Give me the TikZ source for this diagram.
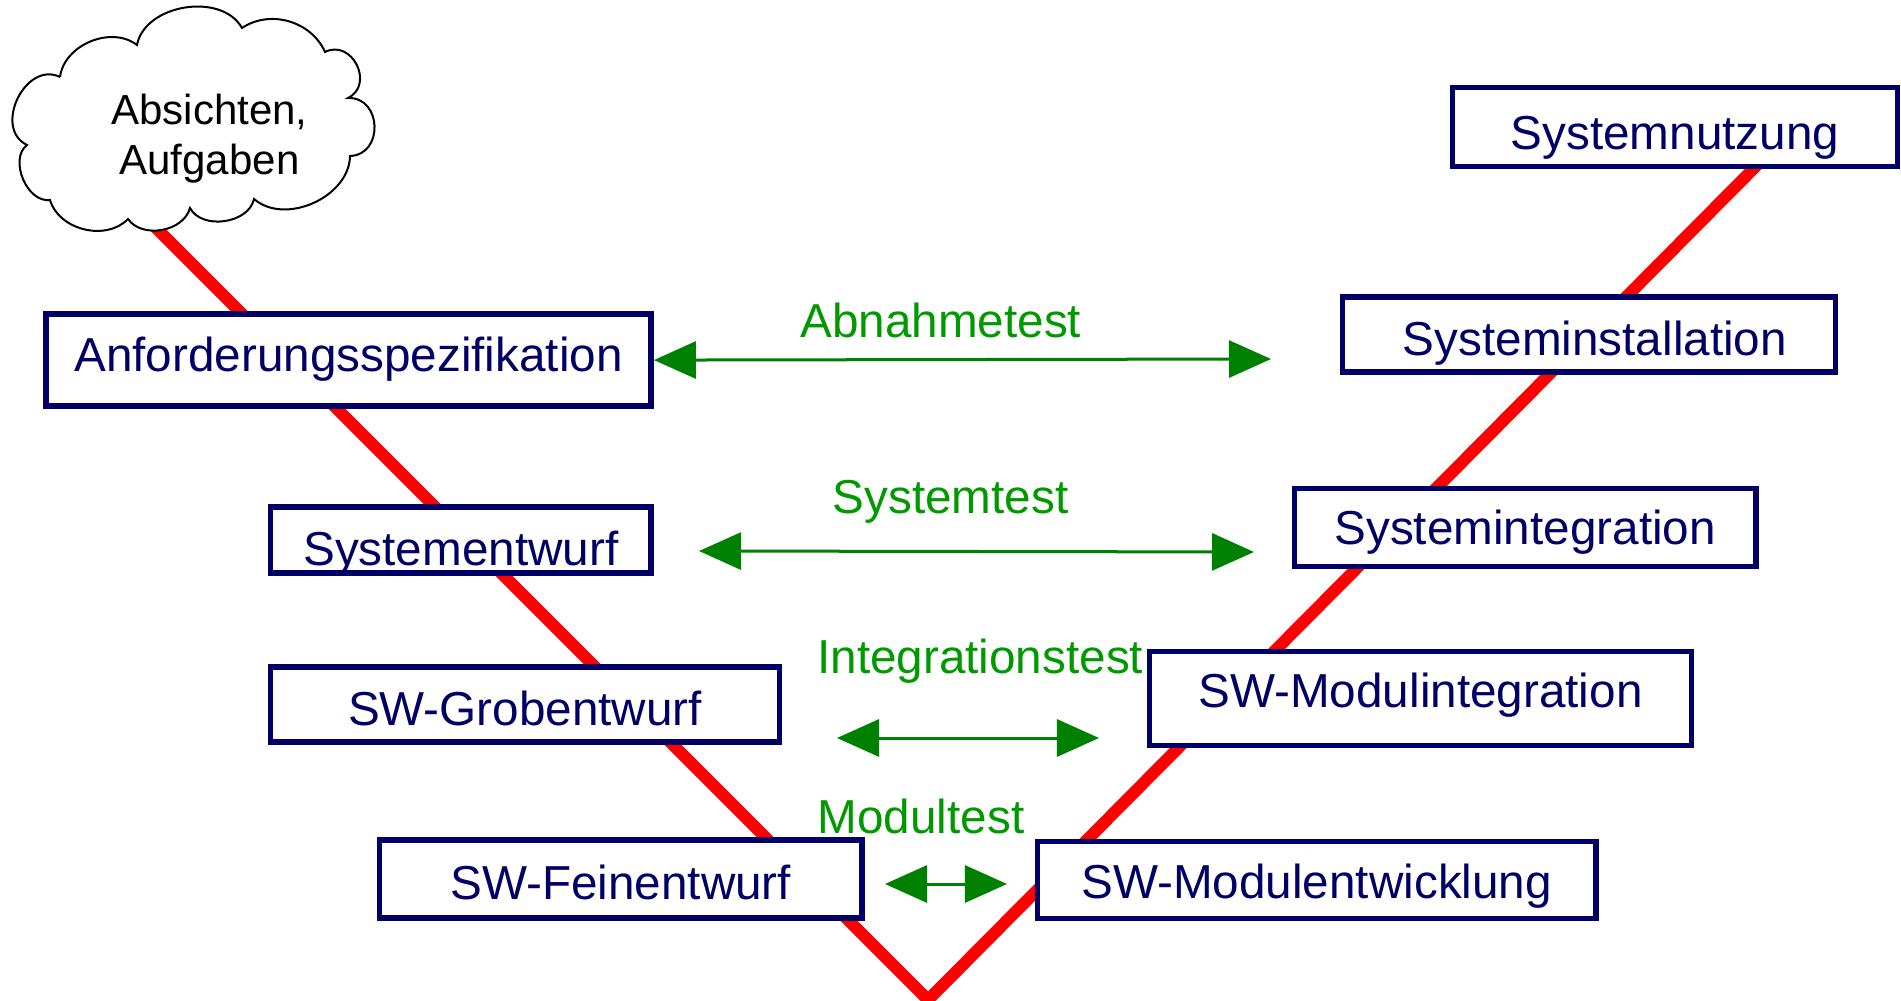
\documentclass[tikz,border=0pt]{standalone}
\usepackage{fontspec}
\setmainfont{Liberation Sans}
\usetikzlibrary{arrows.meta}
\definecolor{navy}{RGB}{0,0,102}
\definecolor{arrowgreen}{RGB}{0,128,0}
\definecolor{labelgreen}{RGB}{0,153,0}
\definecolor{vred}{RGB}{255,0,0}
\begin{document}
\begin{tikzpicture}[x=0.01cm,y=-0.01cm,
  phase/.style={draw=navy, line width=0.055cm, fill=white, text=navy,
    font=\fontsize{13.55pt}{16pt}\selectfont, inner sep=0pt, text depth=0pt},
  testlabel/.style={text=labelgreen, font=\fontsize{13.55pt}{16pt}\selectfont,
    inner sep=0pt, anchor=base},
  testarrow/.style={draw=arrowgreen, line width=0.03cm,
    {Triangle[length=0.42cm,width=0.37cm]}-{Triangle[length=0.42cm,width=0.37cm]}},
  vline/.style={draw=vred, line width=0.12cm},
  wolke/.style={draw=black, fill=white, line width=0.02cm},
]
\useasboundingbox (0,0) rectangle (1901,1001);

% V line
\coordinate (vstart) at (130,202);
\coordinate (vbottom) at (928,1000);
\coordinate (vend) at (1780,142);
\draw[vline] (vstart) -- (vbottom) -- (vend);

% phase boxes
\node[phase, minimum width=6.05cm, minimum height=0.92cm, text height=0.23cm] (anf) at (348.5,360.1) {Anforderungsspezifikation};
\node[phase, minimum width=3.80cm, minimum height=0.66cm, text height=0.51cm] (se) at (460.8,540) {Systementwurf};
\node[phase, minimum width=5.09cm, minimum height=0.75cm, text height=0.43cm] (sg) at (525,704.4) {SW-Grobentwurf};
\node[phase, minimum width=4.82cm, minimum height=0.78cm, text height=0.41cm] (sf) at (620.7,879) {SW-Feinentwurf};
\node[phase, minimum width=5.58cm, minimum height=0.77cm, text height=0.37cm] (me) at (1316.7,880.2) {SW-Modulentwicklung};
\node[phase, minimum width=5.42cm, minimum height=0.94cm, text height=0.18cm] (mi) at (1420.5,698.3) {SW-Modulintegration};
\node[phase, minimum width=4.61cm, minimum height=0.78cm, text height=0.34cm] (sint) at (1525.2,527.3) {Systemintegration};
\node[phase, minimum width=4.93cm, minimum height=0.75cm, text height=0.41cm] (sinst) at (1588.9,334.6) {\hspace*{0.12cm}Systeminstallation};
\node[phase, minimum width=4.45cm, minimum height=0.79cm, text height=0.44cm] (snutz) at (1675,127) {Systemnutzung};

% cloud (drawn directly)
\coordinate (c1) at (60,77);
\coordinate (c2) at (137,45);
\coordinate (c3) at (242,28);
\coordinate (c4) at (325,52);
\coordinate (c5) at (348,98);
\coordinate (c6) at (350,156);
\coordinate (c7) at (254,199);
\coordinate (c8) at (190,208);
\coordinate (c9) at (128,219);
\coordinate (c10) at (50,200);
\coordinate (c11) at (27,145);
\draw[wolke] (c1) to[bend left=60] (c2) to[bend left=70] (c3)
  to[bend left=50] (c4) to[bend left=90, looseness=1.5] (c5)
  to[bend left=90, looseness=1.5] (c6) to[bend left=65] (c7)
  to[bend left=70] (c8) to[bend left=65] (c9) to[bend left=60] (c10)
  to[bend left=75] (c11) to[bend left=90, looseness=1.3] (c1);
\node[align=center, inner sep=0pt, font=\fontsize{11.95pt}{14.23pt}\selectfont] (wolketext) at (209.5,139) {Absichten,\\Aufgaben};

% test labels
\node[testlabel] (labnahme) at (940.8,338) {Abnahmetest};
\node[testlabel] (lsystem) at (950.5,514) {Systemtest};
\node[testlabel] (linteg) at (980.2,674) {Integrationstest};
\node[testlabel] (lmodul) at (921,833) {Modultest};

% test arrows
\coordinate (abR) at (1271,359);
\coordinate (stL) at (699,551);
\coordinate (stR) at (1254,552);
\coordinate (itL) at (837,738);
\coordinate (itR) at (1099,738);
\coordinate (mtL) at (885,884);
\coordinate (mtR) at (1007,884);
\draw[testarrow] (anf.east) -- (abR);
\draw[testarrow] (stL) -- (stR);
\draw[testarrow] (itL) -- (itR);
\draw[testarrow] (mtL) -- (mtR);
\end{tikzpicture}
\end{document}
